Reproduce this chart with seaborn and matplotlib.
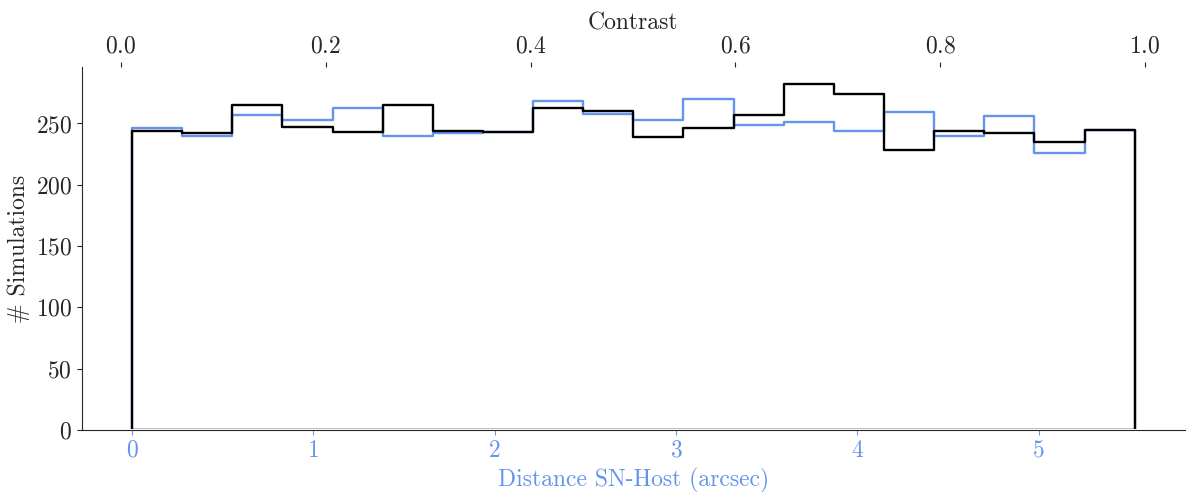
import numpy as np
import pandas as pd
import matplotlib
matplotlib.use("Agg")
import matplotlib.pyplot as plt
import matplotlib.transforms as mtransforms
import seaborn as sns

# Histogram counts per bin (20 bins each)
distance_counts = [246, 240, 257, 253, 263, 240, 242, 243, 268, 258,
                   253, 270, 249, 251, 244, 259, 240, 256, 226, 245]
contrast_counts = [244, 242, 265, 247, 243, 265, 244, 243, 263, 260,
                   239, 246, 257, 282, 274, 228, 244, 242, 235, 245]

distance_range = (0.0, 5.53)     # arcsec
contrast_range = (0.0107, 0.990)
n_bins = 20

blue = "cornflowerblue"

sns.set_style("ticks")
plt.rcParams["font.family"] = ["cmr10", "DejaVu Serif"]
plt.rcParams["axes.formatter.use_mathtext"] = True
plt.rcParams["mathtext.fontset"] = "cm"

dist_edges = np.linspace(*distance_range, n_bins + 1)
con_edges = np.linspace(*contrast_range, n_bins + 1)
dist_df = pd.DataFrame({"x": 0.5 * (dist_edges[:-1] + dist_edges[1:]),
                        "n": distance_counts})
con_df = pd.DataFrame({"x": 0.5 * (con_edges[:-1] + con_edges[1:]),
                       "n": contrast_counts})

fig = plt.figure(figsize=(11.86, 4.92), dpi=100)
ax = fig.add_axes([0.069, 0.126, 0.93, 0.738])

# Clip region that hides the outline's own baseline behind the x spine
lift = mtransforms.ScaledTranslation(0, 0.9 / 72, fig.dpi_scale_trans)
clip = mtransforms.TransformedBbox(
    mtransforms.Bbox([[0, 0], [1, 1]]), ax.transAxes + lift)


def outline_only(axis, color):
    """Turn the filled step area into a closed, unfilled outline."""
    poly = axis.collections[-1]
    poly.set_alpha(1)
    poly.set_facecolor("none")
    poly.set_edgecolor(color)
    poly.set_linewidth(1.7)
    poly.set_clip_box(clip)


sns.histplot(data=dist_df, x="x", weights="n", bins=list(dist_edges),
             element="step", fill=True, color=blue, ax=ax)
outline_only(ax, blue)
ax.set_xlabel("Distance SN-Host (arcsec)", color=blue, fontsize=17)
ax.set_ylabel("# Simulations", fontsize=17)
ax.tick_params(axis="x", colors=blue, labelsize=17)
ax.tick_params(axis="y", labelsize=17)
ax.set_yticks([0, 50, 100, 150, 200, 250])

ax2 = ax.twiny()
sns.histplot(data=con_df, x="x", weights="n", bins=list(con_edges),
             element="step", fill=True, color="black", ax=ax2)
outline_only(ax2, "black")
ax2.set_xlabel("Contrast", fontsize=17)
ax2.set_ylabel("")
ax2.tick_params(axis="x", labelsize=17)
ax2.set_xticks([0.0, 0.2, 0.4, 0.6, 0.8, 1.0])

for a in (ax, ax2):
    a.spines["top"].set_visible(False)
    a.spines["right"].set_visible(False)
ax2.spines["left"].set_visible(False)
ax2.spines["bottom"].set_visible(False)

ax.set_ylim(0, max(max(distance_counts), max(contrast_counts)) * 1.05)

fig.savefig("out.png", dpi=100)
